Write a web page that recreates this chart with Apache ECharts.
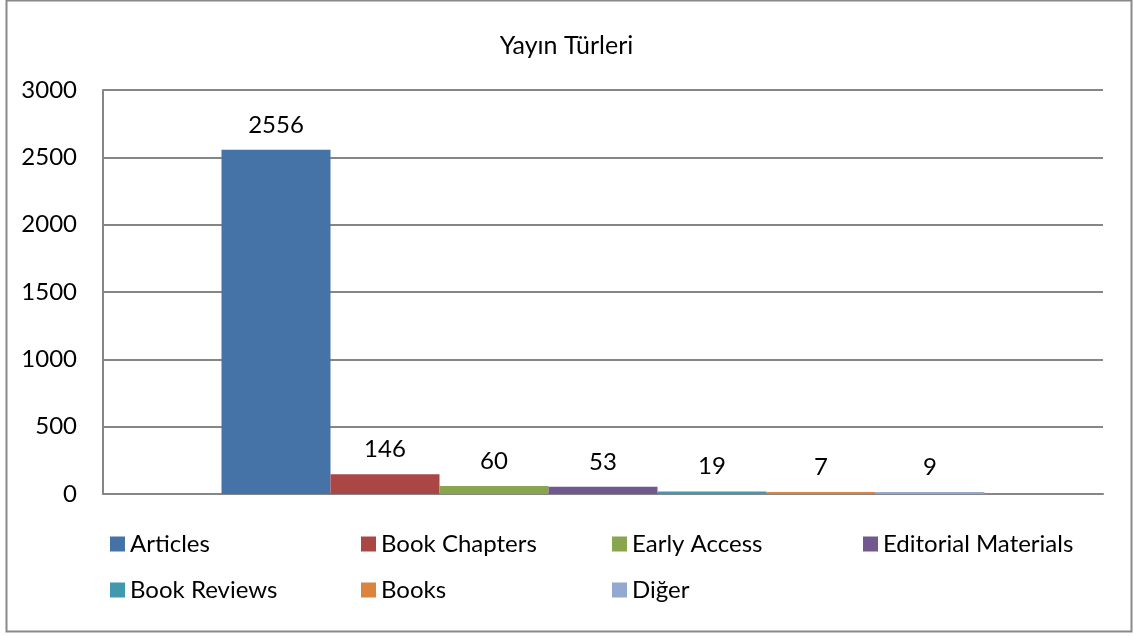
<!DOCTYPE html>
<html>
<head>
<meta charset="utf-8">
<script src="https://cdn.jsdelivr.net/npm/echarts@6/dist/echarts.min.js"></script>
<style>
  html, body { margin: 0; padding: 0; background: #fff; }
  #chart { width: 1133px; height: 637px; }
</style>
</head>
<body>
<div id="chart"></div>
<script>
const categories = ['Yayın Türleri']
const seriesNames = ['Articles', 'Book Chapters', 'Early Access', 'Editorial Materials', 'Book Reviews', 'Books', 'Diğer']
const seriesValues = [2556, 146, 60, 53, 19, 7, 9]
const seriesColors = ['#4572A7', '#AA4643', '#89A54E', '#71588F', '#4198AF', '#DB843D', '#93A9CF']
const yTicks = [0, 500, 1000, 1500, 2000, 2500, 3000]

const font = 'Lato, "Open Sans", sans-serif'
const chart = echarts.init(document.getElementById('chart'))

chart.setOption({
  animation: false,
  title: {
    text: 'Yayın Türleri',
    left: 'center',
    top: 28,
    textStyle: { fontFamily: font, fontSize: 25, fontWeight: 'normal', color: '#000' },
  },
  graphic: [
    {
      type: 'rect',
      shape: { x: 6.5, y: 0.5, width: 1125, height: 631 },
      style: { fill: 'none', stroke: '#898989', lineWidth: 2 },
    },
  ],
  legend: {
    left: 110,
    top: 521,
    width: 1010,
    padding: 0,
    itemWidth: 15,
    itemHeight: 15,
    itemGap: 0,
    icon: 'rect',
    data: seriesNames,
    textStyle: { fontFamily: font, fontSize: 24, color: '#000', width: 231, lineHeight: 46 },
  },
  grid: { left: 103, right: 30, top: 90, bottom: 143 },
  xAxis: {
    type: 'category',
    data: categories,
    axisLine: { lineStyle: { color: '#868686', width: 2 } },
    axisTick: { show: false },
    axisLabel: { show: false },
  },
  yAxis: {
    type: 'value',
    min: yTicks[0],
    max: yTicks[yTicks.length - 1],
    interval: 500,
    axisLine: { show: true, lineStyle: { color: '#868686', width: 2 } },
    axisTick: { show: false },
    axisLabel: { fontFamily: font, fontSize: 24, color: '#000', margin: 26, formatter: (v) => String(v) },
    splitLine: { lineStyle: { color: '#868686', width: 2 } },
  },
  series: seriesNames.map((name, i) => ({
    name,
    type: 'bar',
    data: [seriesValues[i]],
    barGap: '0%',
    barCategoryGap: '23.7%',
    barMinHeight: 2,
    itemStyle: { color: seriesColors[i] },
    label: { show: true, position: 'top', distance: 13, fontFamily: font, fontSize: 24, color: '#000' },
  })),
})
</script>
</body>
</html>
